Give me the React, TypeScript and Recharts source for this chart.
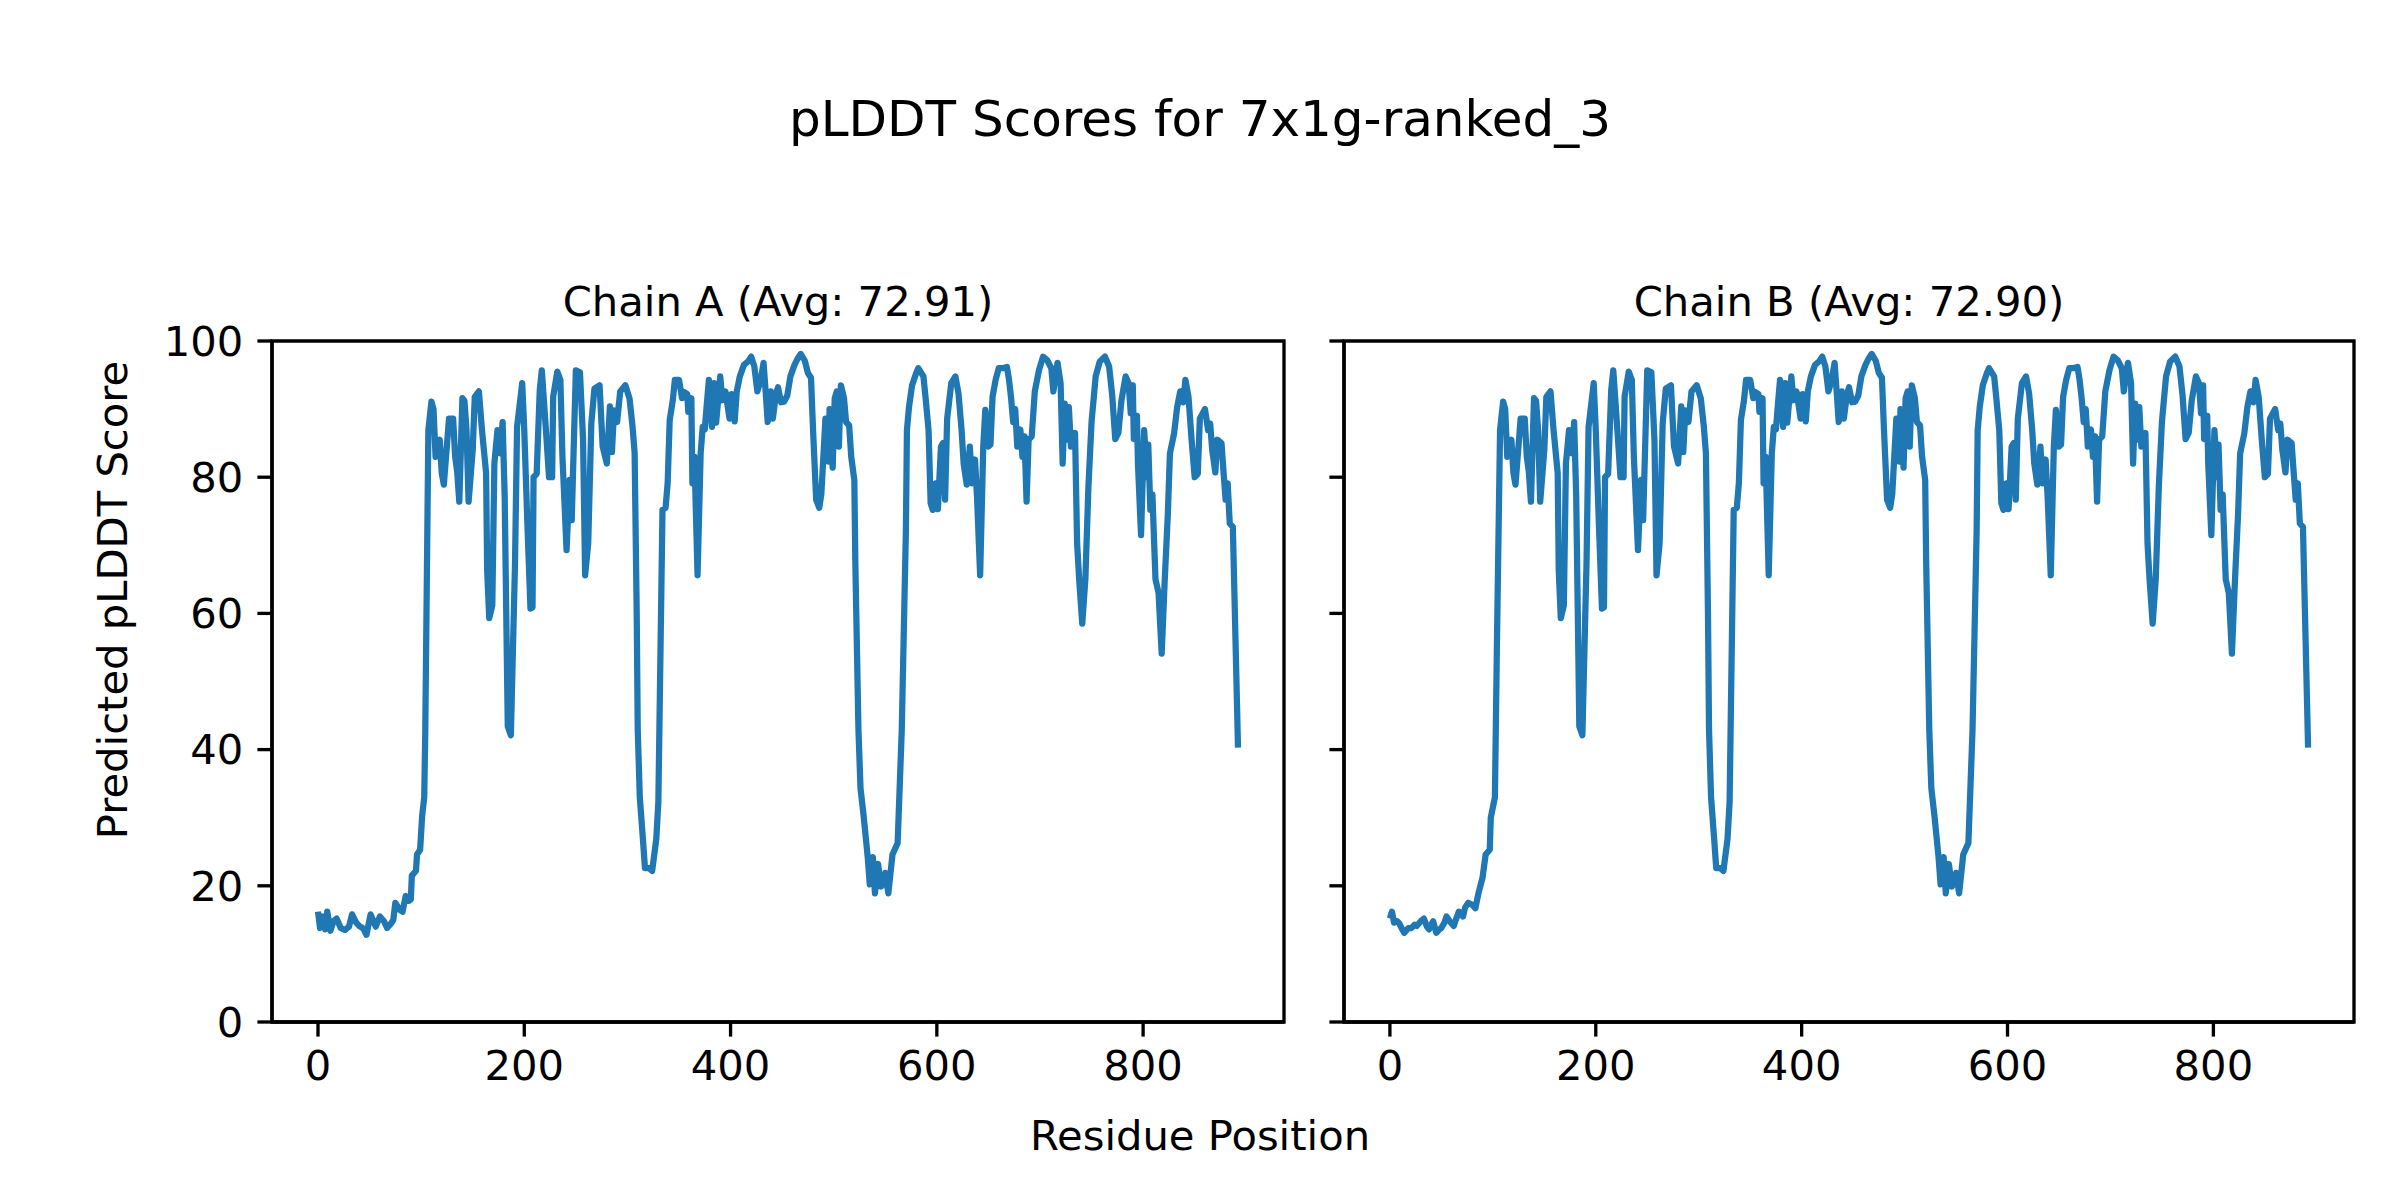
import React from 'react';
import { LineChart, Line, XAxis, YAxis, ReferenceArea } from 'recharts';

// residue positions / pLDDT values (chain A)
const chainAPos = [
  0, 2, 5, 7, 9, 12, 15, 18, 22, 26, 30, 33, 37, 40, 44, 47, 51, 56, 60, 64, 67, 71, 73, 75, 79, 82, 85, 88, 90, 91,
  95, 96, 99, 101, 103, 104,
  107, 110, 112, 114, 118, 120, 122, 127, 131, 133, 135, 137, 140, 142, 144, 146, 150, 152, 156, 159, 163, 164, 166, 169,
  171, 174, 177, 179, 181, 184, 187, 191, 193, 198, 200, 203, 206, 208, 209, 212, 215, 217, 221, 224, 227, 228, 232, 235,
  237, 239, 241, 244, 246, 250, 254, 257, 259, 262, 265, 268, 273, 276, 280, 283, 285, 287, 290, 293, 298, 302, 305, 307,
  309, 310, 312, 315, 317, 321, 324, 328, 330, 334, 337, 339, 341, 344, 346, 350, 353, 355, 358, 359, 362, 363, 365, 368,
  371, 373, 375, 377, 379, 382, 384, 386, 390, 392, 395, 399, 401, 404, 406, 409, 413, 417, 420, 423, 426, 429, 432, 434,
  436, 439, 441, 444, 446, 449, 452, 455, 458, 462, 465, 468, 472, 475, 478, 480, 483, 486, 488, 490, 492, 495, 496, 499,
  501, 503, 505, 507, 510, 512, 515, 517, 520, 521, 524, 526, 529, 533, 535, 538, 540, 543, 546, 550, 553, 557, 562, 566,
  570, 571, 573, 576, 580, 582, 587, 589, 592, 594, 596, 599, 601, 604, 606, 608, 610, 614, 618, 621, 624, 626, 629, 632,
  634, 637, 639, 642, 645, 647, 650, 652, 654, 657, 660, 664, 668, 670, 672, 674, 676, 678, 681, 683, 685, 687, 689, 692,
  695, 699, 703, 707, 711, 713, 717, 720, 722, 724, 726, 728, 730, 734, 736, 738, 741, 744, 747, 750, 754, 758, 763, 767,
  770, 773, 776, 779, 783, 786, 788, 790, 791, 794, 795, 798, 801, 804, 805, 807, 809, 812, 815, 818, 821, 824, 826, 830,
  833, 836, 839, 841, 844, 847, 850, 853, 855, 860, 863, 865, 867, 870, 872, 876, 878, 880, 882, 884, 887, 889, 892,
];
const chainAScore = [
  16.2, 13.8, 15.5, 13.6, 16.2, 13.4, 14.8, 15.2, 13.8, 13.5, 14.0, 15.8, 14.6, 14.1, 13.7, 12.8, 15.8, 14.0, 15.5, 14.8,
  13.8, 14.5, 15.0, 17.5, 16.5, 16.2, 18.5, 17.8, 18.0, 21.5,
  22.2, 24.6, 25.3, 30.3, 33.0, 42.4,
  86.9, 91.1, 90.0, 83.0, 85.5, 80.6, 78.9, 88.6, 88.6, 83.0, 80.7, 76.4, 91.6, 91.2, 86.9, 76.4, 84.0, 91.8, 92.6, 86.9,
  80.6, 66.4, 59.3, 61.2,
  82.0, 86.9, 83.5, 88.1, 77.1, 43.4, 42.1, 67.3, 87.4, 93.8, 86.9, 73.2, 60.7, 60.9, 80.0, 80.5, 92.8, 95.7, 86.9, 80.0,
  80.0, 91.8, 95.5, 94.3,
  83.0, 76.2, 69.3, 79.6, 73.7, 95.7, 95.4, 85.5, 65.6, 70.3, 87.9, 93.0, 93.5, 84.5, 82.0, 90.4, 83.7, 89.8, 88.1, 92.6,
  93.5, 91.6, 87.4, 83.5,
  60.0, 43.0, 33.0, 26.9, 22.6, 22.6, 22.2, 26.9, 32.3, 75.2, 75.5, 79.1, 88.4, 91.3, 94.3, 94.3, 91.6, 92.5, 92.2, 89.6,
  91.6, 79.1, 83.0, 65.6,
  83.5, 87.4, 87.0, 90.8, 94.3, 87.4, 93.8, 88.0, 94.8, 91.3, 92.6, 88.6, 92.2, 88.2, 92.6, 94.8, 96.5, 97.0, 97.7, 96.3,
  92.6, 94.1, 96.8, 92.6,
  88.1, 92.6, 88.6, 92.2, 93.2, 91.0, 91.1, 92.0, 94.8, 96.5, 97.4, 98.1, 97.1, 95.3, 94.6, 86.9, 76.7, 75.5, 77.5, 83.0,
  88.6, 82.3, 90.0, 81.4,
  91.6, 92.6, 84.5, 93.5, 91.6, 88.1, 87.6, 83.0, 79.6, 67.3, 42.9, 34.3, 30.3, 24.2, 20.2, 24.2, 18.9, 23.2, 19.9, 21.9,
  18.9, 24.6, 26.3, 42.9,
  72.2, 86.9, 90.3, 93.5, 95.3, 96.0, 94.8, 91.8, 86.9, 76.2, 75.2, 79.1, 75.3, 84.5, 85.0, 76.7, 88.6, 93.8, 94.8, 92.3,
  86.9, 82.0, 78.9, 84.5,
  79.1, 82.6, 77.0, 65.6, 84.5, 89.9, 84.5, 84.8, 91.8, 94.3, 96.0, 96.0, 96.2, 94.3, 91.6, 88.1, 90.0, 84.5, 87.0, 83.0,
  86.0, 76.4, 85.5, 86.0,
  92.6, 95.7, 97.7, 97.2, 96.0, 92.6, 96.8, 93.8, 82.0, 90.8, 85.5, 90.3, 84.5, 86.5, 70.3, 65.0, 58.5, 65.0, 78.7, 88.1,
  94.8, 97.0, 97.7, 96.3,
  92.1, 85.6, 86.5, 91.3, 94.8, 93.8, 89.4, 93.5, 85.6, 89.0, 82.0, 71.5, 86.9, 80.0, 84.8, 75.2, 77.5, 65.0, 63.0, 54.1,
  65.0, 74.7, 83.5, 86.4,
  90.3, 92.6, 91.0, 94.3, 91.8, 85.5, 80.0, 80.5, 88.6, 90.0, 86.9, 87.9, 84.0, 80.7, 85.5, 85.0, 80.7, 76.7, 79.1, 73.2,
  72.7, 59.8, 40.3,
];

// chain B differs only over the disordered N-terminus
const chainBHeadPos = [
  0, 2, 4, 7, 9, 12, 14, 18, 21, 24, 26, 30, 33, 36, 38, 42, 45, 48, 50, 53, 55, 58, 62, 64, 67, 71, 73, 76, 80, 83,
  86, 90, 93, 97, 98, 102, 104,
];
const chainBHeadScore = [
  15.2, 16.2, 14.6, 14.8, 14.5, 13.6, 13.1, 13.8, 13.8, 14.3, 14.1, 14.8, 15.2, 14.0, 13.6, 14.8, 13.1, 13.6, 13.8, 14.6,
  15.5, 14.8, 14.1, 15.0, 16.2, 15.5, 16.8, 17.5, 17.2, 16.7, 18.9, 21.2, 24.6, 25.3, 30.0, 33.0, 55.9,
];

const xTicks = [0, 200, 400, 600, 800];
const yTicks = [0, 20, 40, 60, 80, 100];
const X_DOMAIN: [number, number] = [-44.6, 936.6];

const toRows = (pos: number[], score: number[]) => pos.map((p, i) => ({ pos: p, score: score[i] }));
const chainA = toRows(chainAPos, chainAScore);
const chainB = [
  ...toRows(chainBHeadPos, chainBHeadScore),
  ...chainA.filter(d => d.pos >= 107),
];

const FONT = 'DejaVu Sans';
const SPINE = 3.33;
const TICK = 14.6;
const FS = 41.7;
const axisStyle = { stroke: '#000', strokeWidth: SPINE };
const tickLine = { stroke: '#000', strokeWidth: SPINE };
const tickText = { fill: '#000', fontSize: FS, fontFamily: FONT };

const Panel = ({ data, left, width, leftPad, rightPad, showY }: { data: any[]; left: number; width: number; leftPad: number; rightPad: number; showY: boolean }) => (
  <div style={{ position: 'absolute', left, top: 0 }}>
    <LineChart width={width} height={1200} data={data} margin={{ top: 341, right: rightPad, bottom: 78, left: leftPad }}>
      <XAxis
        dataKey="pos"
        type="number"
        domain={X_DOMAIN}
        ticks={xTicks}
        height={100}
        tickSize={TICK}
        tickMargin={14}
        axisLine={axisStyle}
        tickLine={tickLine}
        tick={tickText}
        allowDataOverflow
      />
      <YAxis
        type="number"
        domain={[0, 100]}
        ticks={yTicks}
        width={100}
        tickSize={TICK}
        tickMargin={14}
        axisLine={axisStyle}
        tickLine={tickLine}
        tick={showY ? tickText : () => <g />}
        allowDataOverflow
      />
      <Line
        type="linear"
        dataKey="score"
        stroke="#1f77b4"
        strokeWidth={6.25}
        strokeLinejoin="round"
        dot={false}
        activeDot={false}
        isAnimationActive={false}
      />
      <ReferenceArea
        x1={X_DOMAIN[0]}
        x2={X_DOMAIN[1]}
        y1={0}
        y2={100}
        fill="none"
        fillOpacity={0}
        stroke="#000"
        strokeWidth={SPINE}
        ifOverflow="visible"
      />
    </LineChart>
  </div>
);

export default function App() {
  return (
    <div style={{ position: 'relative', width: 2400, height: 1200, margin: -8, background: '#fff', fontFamily: FONT }}>
      <Panel data={chainA} left={0} width={1300} leftPad={172} rightPad={16} showY />
      <Panel data={chainB} left={1244} width={1120} leftPad={0} rightPad={10} showY={false} />
      <svg width={2400} height={1200} style={{ position: 'absolute', left: 0, top: 0, pointerEvents: 'none' }}>
        <text x={1200} y={136} textAnchor="middle" fontSize={50} fontFamily={FONT} fill="#000">pLDDT Scores for 7x1g-ranked_3</text>
        <text x={778} y={316} textAnchor="middle" fontSize={FS} fontFamily={FONT} fill="#000">Chain A (Avg: 72.91)</text>
        <text x={1849} y={316} textAnchor="middle" fontSize={FS} fontFamily={FONT} fill="#000">Chain B (Avg: 72.90)</text>
        <text x={1200} y={1150} textAnchor="middle" fontSize={FS} fontFamily={FONT} fill="#000">Residue Position</text>
        <text x={127} y={600} textAnchor="middle" fontSize={FS} fontFamily={FONT} fill="#000" transform="rotate(-90 127 600)">Predicted pLDDT Score</text>
      </svg>
    </div>
  );
}
